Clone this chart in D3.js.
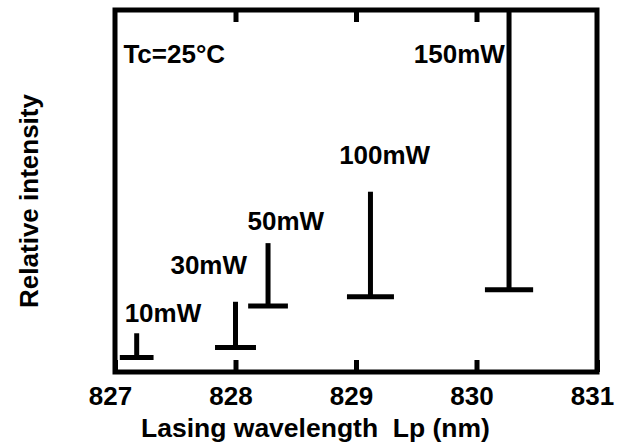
<!DOCTYPE html>
<html>
<head>
<meta charset="utf-8">
<script src="https://cdn.jsdelivr.net/npm/d3@7"></script>
<style>
    body { margin: 0; background: #fff; }
    text { font-family: "Liberation Sans", Arial, sans-serif; font-weight: bold; fill: #000; }
</style>
</head>
<body>
<div id="chart"></div>
<script>
// vim: set expandtab shiftwidth=4 softtabstop=4:

// output power of each spectrum
var powers = ["10mW", "30mW", "50mW", "100mW", "150mW"];
// peak wavelength (nm)
var peakNm = [827.18, 828.00, 828.27, 829.12, 830.27];
// bottom of the peak (relative intensity, 0-100)
var baseLevel = [4.0, 6.8, 18.2, 20.8, 22.7];
// top of the peak (relative intensity, 0-100)
var peakLevel = [10.7, 19.4, 35.6, 49.8, 100];
// spread of the base bar (nm)
var spreadNm = [0.28, 0.34, 0.33, 0.39, 0.40];
// annotation anchors in data units
var labelNm = [827.08, 827.46, 828.10, 828.86, 829.48];
var labelLevel = [13.8, 27.0, 39.2, 57.5, 85.3];
var noteText = "Tc=25°C";
var noteNm = 827.07;
var noteLevel = 85.4;
var xTicks = [827, 828, 829, 830, 831];

chart = (function(){

    var width = 629, height = 445;
    var margin = { top: 10, right: 32, bottom: 73, left: 115 };
    var stroke = 5;

    //
    // draw:
    //   frame with inward ticks, one "T" mark per output power
    //
    function draw() {
        var svg = d3.select("#chart").append("svg")
                    .attr("width", width)
                    .attr("height", height);

        var x = d3.scaleLinear()
                  .domain([827, 831])
                  .range([margin.left, width - margin.right]);
        var y = d3.scaleLinear()
                  .domain([0, 100])
                  .range([height - margin.bottom, margin.top]);

        var frame = svg.append("g");
        frame.append("rect")
             .attr("x", x(827))
             .attr("y", y(100))
             .attr("width", x(831) - x(827))
             .attr("height", y(0) - y(100))
             .attr("fill", "none")
             .attr("stroke", "#000")
             .attr("stroke-width", stroke);

        // bottom axis: ticks pointing inward, labels below
        var bottom = svg.append("g")
                        .attr("transform", "translate(0," + y(0) + ")")
                        .call(d3.axisBottom(x)
                                .tickValues(xTicks)
                                .tickFormat(d3.format("d"))
                                .tickSizeInner(-12)
                                .tickSizeOuter(0)
                                .tickPadding(15));
        bottom.select(".domain").remove();
        bottom.selectAll(".tick line")
              .attr("stroke", "#000")
              .attr("stroke-width", stroke);
        bottom.selectAll(".tick text")
              .attr("dx", -5)
              .style("font-size", "26px");

        // top axis: ticks only
        var top = svg.append("g")
                     .attr("transform", "translate(0," + y(100) + ")")
                     .call(d3.axisTop(x)
                             .tickValues(xTicks.slice(1, -1))
                             .tickFormat("")
                             .tickSizeInner(-12)
                             .tickSizeOuter(0));
        top.select(".domain").remove();
        top.selectAll(".tick line")
           .attr("stroke", "#000")
           .attr("stroke-width", stroke);

        // spectral peaks
        var peaks = svg.append("g").selectAll("g")
                       .data(powers.map(function(p, i) { return i; }))
                       .enter().append("g");
        peaks.append("line")
             .attr("x1", function(i) { return x(peakNm[i]); })
             .attr("x2", function(i) { return x(peakNm[i]); })
             .attr("y1", function(i) { return y(peakLevel[i]); })
             .attr("y2", function(i) { return y(baseLevel[i]); })
             .attr("stroke", "#000")
             .attr("stroke-width", stroke);
        peaks.append("line")
             .attr("x1", function(i) { return x(peakNm[i] - spreadNm[i] / 2); })
             .attr("x2", function(i) { return x(peakNm[i] + spreadNm[i] / 2); })
             .attr("y1", function(i) { return y(baseLevel[i]); })
             .attr("y2", function(i) { return y(baseLevel[i]); })
             .attr("stroke", "#000")
             .attr("stroke-width", stroke);
        peaks.append("text")
             .attr("x", function(i) { return x(labelNm[i]); })
             .attr("y", function(i) { return y(labelLevel[i]); })
             .style("font-size", "26px")
             .text(function(i) { return powers[i]; });

        svg.append("text")
           .attr("x", x(noteNm))
           .attr("y", y(noteLevel))
           .style("font-size", "26px")
           .text(noteText);

        // axis titles
        svg.append("text")
           .attr("x", 141)
           .attr("y", 437)
           .attr("xml:space", "preserve")
           .style("white-space", "pre")
           .style("font-size", "26.5px")
           .text("Lasing wavelength  Lp (nm)");
        svg.append("text")
           .attr("transform", "translate(38,201) rotate(-90)")
           .attr("text-anchor", "middle")
           .style("font-size", "26px")
           .text("Relative intensity");
    }

    draw();

    return {
        draw: draw,
    };
})();
</script>
</body>
</html>
